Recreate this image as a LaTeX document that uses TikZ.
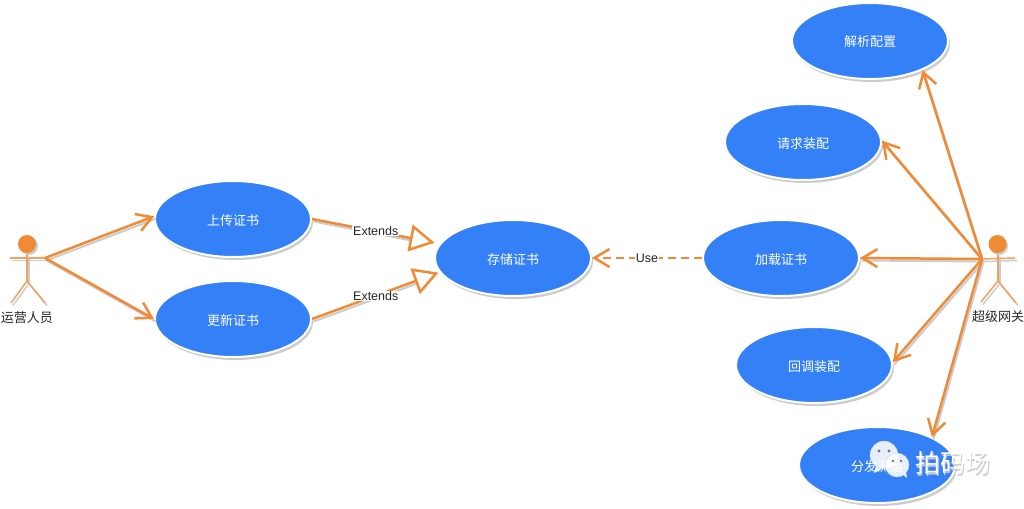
\documentclass[tikz,border=0pt]{standalone}
\usepackage{fontspec}
\setmainfont{Liberation Sans}
\newfontfamily\cjk{Noto Sans CJK SC}
\usetikzlibrary{shapes.geometric,shadows,arrows.meta,calc}
\definecolor{ublue}{HTML}{3380F7}
\definecolor{uorange}{HTML}{F08A35}
\definecolor{ushadow}{HTML}{CCCCCC}
\tikzset{
  usecase/.style={ellipse,inner sep=0pt,minimum width=156pt,minimum height=76pt,fill=ublue,draw=white,line width=2pt,
    text=white,font=\cjk\fontsize{13}{15}\selectfont,text height=13pt,text depth=1pt,
    general shadow={shadow xshift=2pt,shadow yshift=-3pt,fill=ushadow}},
  conn/.style={draw=uorange,line width=2.5pt},
  lineshadow/.style={draw=ushadow,line width=2pt,transform canvas={shift={(1.5pt,-2.5pt)}}},
  opentip/.style={-{Straight Barb[length=15pt,width=18pt,line width=2.5pt]}},
  hollowtip/.style={-{Triangle[open,fill=white,length=25pt,width=27pt,line width=2.5pt]}},
  limb/.style={draw=uorange!80,line width=1.5pt},
  limbshadow/.style={draw=ushadow,line width=1.5pt,transform canvas={shift={(2pt,-2.5pt)}}},
  head/.style={circle,inner sep=0pt,minimum size=18pt,fill=uorange},
  actorlabel/.style={font=\cjk\fontsize{13}{15}\selectfont,text=black!85,inner sep=0pt},
  conlabel/.style={font=\fontsize{12.5}{14}\selectfont,fill=white,inner xsep=1pt,inner ysep=0.5pt,text=black!85},
  wmbubble/.style={circle,inner sep=0pt,fill=white,fill opacity=.88,draw=ushadow,line width=.3pt},
}
\begin{document}
\begin{tikzpicture}[x=1pt,y=-1pt]
\useasboundingbox[fill=white] (0,0) rectangle (1024,508);
% use cases
\node[usecase] (upload) at (233,219) {上传证书};
\node[usecase] (update) at (233,319) {更新证书};
\node[usecase] (store) at (513,258) {存储证书};
\node[usecase] (load) at (781,258) {加载证书};
\node[usecase] (callback) at (814,365) {回调装配};
\node[usecase] (request) at (803,142) {请求装配};
\node[usecase] (parse) at (870,41) {解析配置};
\node[usecase] (dist) at (877,465) {分发流量};
% actors
\coordinate (lhip) at (27,281);
\coordinate (lneck) at (27,254);
\coordinate (lhand) at (45,258);
\coordinate (lhandl) at (10,258);
\coordinate (lfootl) at (11,303);
\coordinate (lfootr) at (45,303);
\coordinate (rhip) at (998,281);
\coordinate (rneck) at (998,254);
\coordinate (rhand) at (982,259);
\coordinate (rhandr) at (1015,258);
\coordinate (rfootl) at (981,302);
\coordinate (rfootr) at (1016,303);
\foreach \s in {limbshadow,limb}{
  \draw[\s] (lhandl) -- (lhand);
  \draw[\s] (lneck) -- (lhip);
  \draw[\s] (lfootl) -- (lhip) -- (lfootr);
  \draw[\s] (rhand) -- (rhandr);
  \draw[\s] (rneck) -- (rhip);
  \draw[\s] (rfootl) -- (rhip) -- (rfootr);
}
\node[circle,inner sep=0pt,minimum size=18pt,fill=ushadow] (lheads) at (29,246) {};
\node[circle,inner sep=0pt,minimum size=18pt,fill=ushadow] (rheads) at (999,246) {};
\node[head] (lhead) at (27,244) {};
\node[head] (rhead) at (997.5,244) {};
\node[actorlabel] (lname) at (27,318) {运营人员};
\node[actorlabel] (rname) at (998,317) {超级网关};
% actor connectors: shadow, then line
\foreach \t/\a in {upload/178,update/180}{
  \draw[lineshadow] (lhand) -- (\t.\a);
  \draw[conn,opentip] (lhand) -- (\t.\a);
}
\foreach \t/\a in {parse/-29,request/1,load/0,callback/2,dist/27}{
  \draw[lineshadow] (rhand) -- (\t.\a);
  \draw[conn,opentip] (rhand) -- (\t.\a);
}
% extends
\draw[lineshadow,shorten >=20pt] (upload.0) -- (store.169);
\draw[lineshadow,shorten >=20pt] (update.0) -- (store.191);
\draw[conn,hollowtip,shorten >=5pt] (upload.0) -- node[conlabel,pos=.5] (ext1) {Extends} (store.169);
\draw[conn,hollowtip,shorten >=1pt] (update.0) -- node[conlabel,pos=.5] (ext2) {Extends} (store.191);
% use
\draw[conn,dash pattern=on 8pt off 5pt,-{Straight Barb[length=15pt,width=18pt,line width=2.5pt]}] (load.180) -- node[conlabel,pos=.5] (use) {Use} (store.0);
% watermark
\fill[white,fill opacity=.9] (876,466) -- (874,473) -- (882,469) -- cycle;
\node[wmbubble,minimum width=28pt] (wm1) at (884,455) {};
\fill[white,fill opacity=.9] (902,474) -- (907,478) -- (906,472) -- cycle;
\node[wmbubble,minimum width=24pt] (wm2) at (897,465) {};
\fill[black!55] (879,451) circle (1.6) (889,451) circle (1.6) (893,461) circle (1.4) (901,461) circle (1.4);
\node[font=\cjk\fontsize{25}{28}\selectfont,text=ushadow,inner sep=0pt] (wmtexts) at (953.5,464.5) {拍码场};
\node[font=\cjk\fontsize{25}{28}\selectfont,text=white,inner sep=0pt] (wmtext) at (952.5,463) {拍码场};
\end{tikzpicture}
\end{document}
